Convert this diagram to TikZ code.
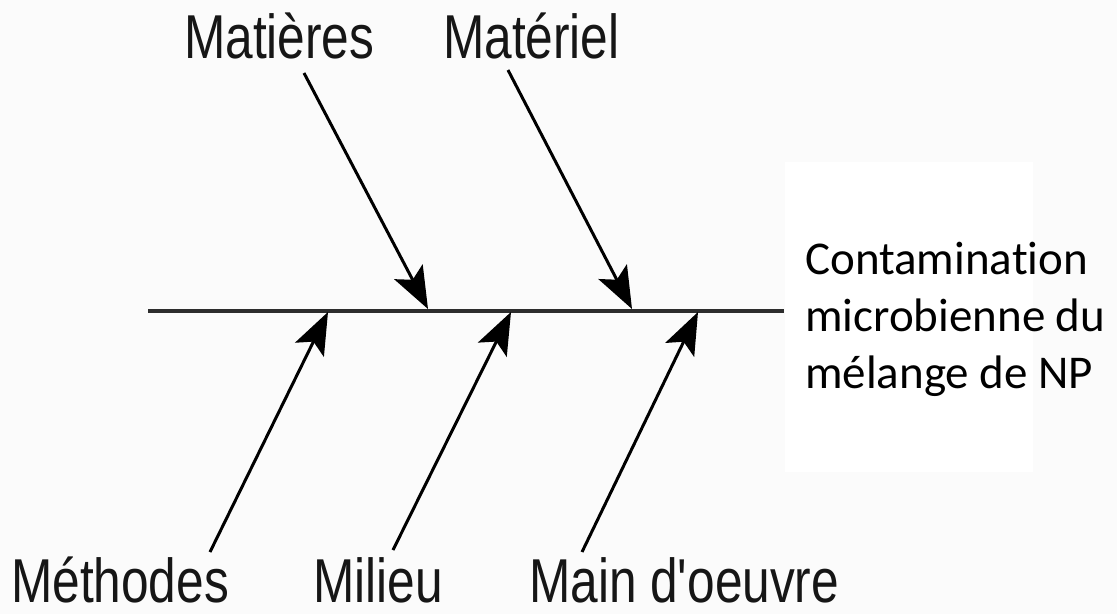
\documentclass[tikz,border=0pt]{standalone}
\usepackage{fontspec}
\setmainfont{Liberation Sans}
\newfontfamily\effectfont[Ligatures=NoCommon]{Carlito}
\usetikzlibrary{arrows.meta}
\definecolor{paper}{RGB}{251,251,251}
\definecolor{ink}{RGB}{22,22,22}
\definecolor{spinegray}{RGB}{45,45,45}
\tikzstyle{cause} = [inner sep=0pt, anchor=base west, xscale=0.8, text=ink, font=\fontsize{62}{70}\selectfont]
\tikzstyle{effect} = [inner sep=0pt, anchor=north west, align=left, text=black, font=\effectfont\fontsize{47}{57}\selectfont]
\tikzstyle{spine} = [line width=4.5pt, draw=spinegray]
\tikzstyle{arrow} = [line width=3pt, -{Stealth[length=42pt,width=32pt,inset=9pt]}]

\begin{document}
\begin{tikzpicture}[x=1pt,y=-1pt]
            \fill[paper] (0,0) rectangle (1117,614);
            \fill[white] (785,162) rectangle (1033,472);
            \useasboundingbox (0,0) rectangle (1117,614);

            \node (matieres) [cause] at (184,58) {Matières};
            \node (materiel) [cause] at (443,58) {Matériel};
            \node (methodes) [cause] at (11,602) {Méthodes};
            \node (milieu) [cause] at (313,602) {Milieu};
            \node (mainoeuvre) [cause] at (529,602) {Main d\textquotesingle oeuvre};
            \node (contamination) [effect] at (805,242) {Contamination\\microbienne du\\mélange de NP};

            \coordinate (spinestart) at (148,311);
            \coordinate (spineend) at (784,311);
            \coordinate (tmatieres) at (304,73);
            \coordinate (hmatieres) at (428,309);
            \coordinate (tmateriel) at (508,70);
            \coordinate (hmateriel) at (632,309);
            \coordinate (tmethodes) at (210,552);
            \coordinate (hmethodes) at (328,312);
            \coordinate (tmilieu) at (393,550);
            \coordinate (hmilieu) at (511,312);
            \coordinate (tmainoeuvre) at (582,552);
            \coordinate (hmainoeuvre) at (698,312);

            \draw [spine] (spinestart) -- (spineend);
            \draw [arrow] (tmatieres) -- (hmatieres);
            \draw [arrow] (tmateriel) -- (hmateriel);
            \draw [arrow] (tmethodes) -- (hmethodes);
            \draw [arrow] (tmilieu) -- (hmilieu);
            \draw [arrow] (tmainoeuvre) -- (hmainoeuvre);
\end{tikzpicture}
\end{document}
